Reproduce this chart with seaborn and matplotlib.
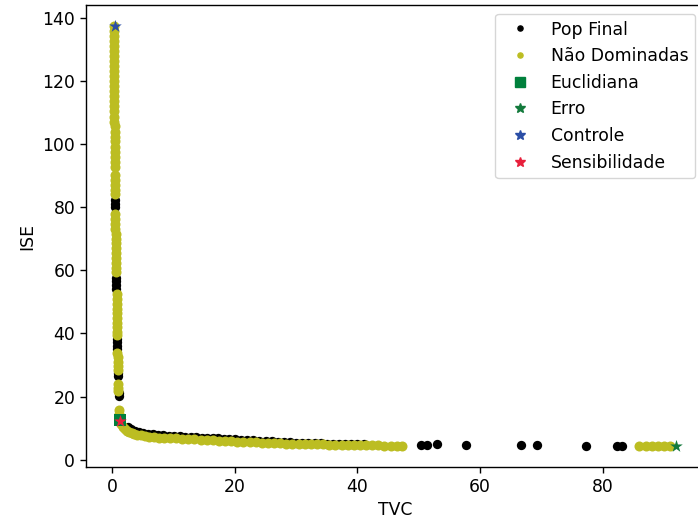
import matplotlib
matplotlib.use("Agg")
import matplotlib.pyplot as plt
from matplotlib.lines import Line2D
import seaborn as sns
import pandas as pd

# ---------------- data ----------------
# Non-dominated solutions (TVC, ISE)
nd_tvc = [
    # vertical branch
    0.30, 0.30, 0.31, 0.31, 0.31, 0.32, 0.32, 0.32, 0.33, 0.33, 0.33, 0.34,
    0.34, 0.34, 0.35, 0.35, 0.35, 0.36, 0.36, 0.36, 0.37, 0.37, 0.38, 0.38,
    0.38, 0.39, 0.39, 0.40, 0.40, 0.41, 0.42, 0.42, 0.43, 0.44,
    0.50, 0.51, 0.52, 0.53, 0.54, 0.55, 0.56, 0.56, 0.57, 0.58, 0.58, 0.59, 0.60,
    0.70, 0.71, 0.72, 0.73, 0.74, 0.75, 0.76, 0.77, 0.78, 0.79,
    0.85, 0.86, 0.87, 0.88, 0.90,
    0.98, 1.00, 1.02,
    1.10, 1.15, 1.20,
    # horizontal branch
    1.5, 1.8, 2.1, 2.4, 2.8, 3.2, 3.6, 4.1, 4.7, 5.3, 6.0, 6.8, 7.6, 8.5,
    9.4, 10.4, 11.4, 12.4, 13.4, 14.4, 15.4, 16.4, 17.4, 18.4, 19.4, 20.4,
    21.4, 22.4, 23.4, 24.4, 25.4, 26.4, 27.4, 28.4, 29.4, 30.4, 31.4, 32.4,
    33.4, 34.4, 35.4, 36.4, 37.4, 38.4, 39.4, 40.4, 41.4, 42.4, 43.4, 44.4,
    45.4, 46.4, 47.3,
    # far end
    86.0, 87.0, 88.0, 89.0, 90.0, 90.9,
]
nd_ise = [
    137.5, 136.0, 134.4, 132.9, 131.2, 129.6, 128.1, 126.5, 124.8, 123.3, 121.7, 120.0,
    118.4, 116.9, 115.2, 113.6, 112.0, 110.5, 108.8, 107.2, 105.7, 104.0, 102.4, 100.9,
    99.2, 97.6, 96.1, 94.5, 92.9, 90.3, 88.7, 87.1, 85.5, 84.2,
    77.9, 76.4, 74.8, 73.2, 71.7, 70.1, 68.6, 67.0, 65.5, 63.9, 62.4, 60.8, 59.4,
    52.4, 50.9, 49.4, 47.9, 46.4, 44.9, 43.4, 41.9, 40.5, 39.4,
    33.9, 32.5, 31.1, 29.7, 28.5,
    23.9, 22.8, 21.8,
    15.6, 14.4, 13.2,
    11.2, 10.3, 9.6, 9.1, 8.7, 8.4, 8.1, 7.9, 7.7, 7.5, 7.3, 7.2, 7.0, 6.9,
    6.8, 6.7, 6.6, 6.5, 6.4, 6.3, 6.2, 6.1, 6.0, 5.9, 5.8, 5.7,
    5.6, 5.6, 5.5, 5.4, 5.3, 5.3, 5.2, 5.1, 5.0, 5.0, 4.9, 4.9,
    4.8, 4.8, 4.7, 4.7, 4.7, 4.6, 4.6, 4.6, 4.5, 4.5, 4.5, 4.4,
    4.4, 4.4, 4.4,
    4.4, 4.4, 4.4, 4.4, 4.4, 4.4,
]

# Final population (TVC, ISE) - points visible outside the non-dominated set
pop_tvc = [
    0.44, 0.46, 0.48, 0.60, 0.62, 0.63, 0.65, 0.80, 0.82, 0.83, 0.84,
    0.92, 0.94, 1.06, 1.08,
    2.6, 3.1, 3.7, 4.4, 5.1, 5.9, 6.6, 7.4, 8.3, 9.2, 10.1, 11.0, 11.9,
    12.8, 13.7, 14.6, 15.5, 16.4, 17.3, 18.2, 19.1, 20.0, 21.0, 22.0, 23.0,
    24.0, 25.0, 26.0, 27.0, 28.0, 29.0, 30.0, 31.0, 32.0, 33.0, 34.0, 35.0,
    36.0, 37.0, 38.0, 39.0, 40.0, 41.0,
    50.3, 51.4, 53.0, 57.7, 66.6, 69.3, 77.2, 82.4, 83.2,
]
pop_ise = [
    82.4, 81.2, 80.0, 57.7, 56.5, 55.3, 54.1, 38.3, 37.3, 36.0, 35.0,
    27.4, 26.4, 21.1, 20.2,
    10.3, 9.6, 9.0, 8.6, 8.4, 8.2, 8.1, 7.9, 7.7, 7.6, 7.5, 7.4, 7.3,
    7.2, 7.1, 7.0, 6.9, 6.8, 6.7, 6.6, 6.5, 6.4, 6.3, 6.2, 6.1,
    6.0, 5.9, 5.8, 5.7, 5.6, 5.5, 5.4, 5.4, 5.3, 5.2, 5.2, 5.1,
    5.1, 5.0, 5.0, 4.9, 4.9, 4.9,
    4.75, 4.75, 4.8, 4.7, 4.7, 4.7, 4.3, 4.3, 4.3,
]

# Selected solutions
euclid_tvc, euclid_ise = [1.2], [12.5]
erro_tvc, erro_ise = [91.9], [4.4]
controle_tvc, controle_ise = [0.44], [137.5]
sens_tvc, sens_ise = [1.3], [12.1]

labels = ["Pop Final", "Não Dominadas", "Euclidiana", "Erro", "Controle", "Sensibilidade"]
c_pop = "black"
c_nd = "#bcbd22"
c_euc = "#00803c"
c_erro = "#137a3c"
c_ctrl = "#2b4ea6"
c_sens = "#e8203c"

# ---------------- figure ----------------
plt.rcParams["font.family"] = ["DejaVu Sans"]
plt.rcParams["font.size"] = 12.4
plt.rcParams["axes.linewidth"] = 1.0
plt.rcParams["xtick.major.width"] = 1.0
plt.rcParams["ytick.major.width"] = 1.0
plt.rcParams["xtick.major.size"] = 4.3
plt.rcParams["ytick.major.size"] = 4.3

fig = plt.figure(figsize=(6.98, 5.23), dpi=100)
ax = fig.add_axes([0.1232, 0.107, 0.885, 0.8834])

pop_df = pd.DataFrame({"TVC": pop_tvc, "ISE": pop_ise})
nd_df = pd.DataFrame({"TVC": nd_tvc, "ISE": nd_ise})

sns.scatterplot(data=pop_df, x="TVC", y="ISE", color=c_pop, marker="o", s=45,
                linewidth=0, ax=ax, legend=False, zorder=2)
sns.scatterplot(data=nd_df, x="TVC", y="ISE", color=c_nd, marker="o", s=52,
                linewidth=0, ax=ax, legend=False, zorder=3)
sns.scatterplot(x=euclid_tvc, y=euclid_ise, color=c_euc, marker="s", s=70,
                linewidth=0, ax=ax, legend=False, zorder=4)
sns.scatterplot(x=erro_tvc, y=erro_ise, color=c_erro, marker="*", s=90,
                linewidth=0, ax=ax, legend=False, zorder=5)
sns.scatterplot(x=controle_tvc, y=controle_ise, color=c_ctrl, marker="*", s=90,
                linewidth=0, ax=ax, legend=False, zorder=5)
sns.scatterplot(x=sens_tvc, y=sens_ise, color=c_sens, marker="*", s=90,
                linewidth=0, ax=ax, legend=False, zorder=5)

ax.set_xlabel("TVC")
ax.set_ylabel("ISE")
ax.set_xticks([0, 20, 40, 60, 80])
ax.set_yticks([0, 20, 40, 60, 80, 100, 120, 140])
ax.margins(0.05)

handles = [
    Line2D([], [], ls="none", marker=".", ms=7.4, color=c_pop),
    Line2D([], [], ls="none", marker=".", ms=7.4, color=c_nd),
    Line2D([], [], ls="none", marker="s", ms=7.4, color=c_euc),
    Line2D([], [], ls="none", marker="*", ms=7.4, color=c_erro),
    Line2D([], [], ls="none", marker="*", ms=7.4, color=c_ctrl),
    Line2D([], [], ls="none", marker="*", ms=7.4, color=c_sens),
]
ax.legend(handles, labels, loc="upper right", framealpha=0.8, edgecolor="0.8")

fig.savefig("out.png", dpi=100)
